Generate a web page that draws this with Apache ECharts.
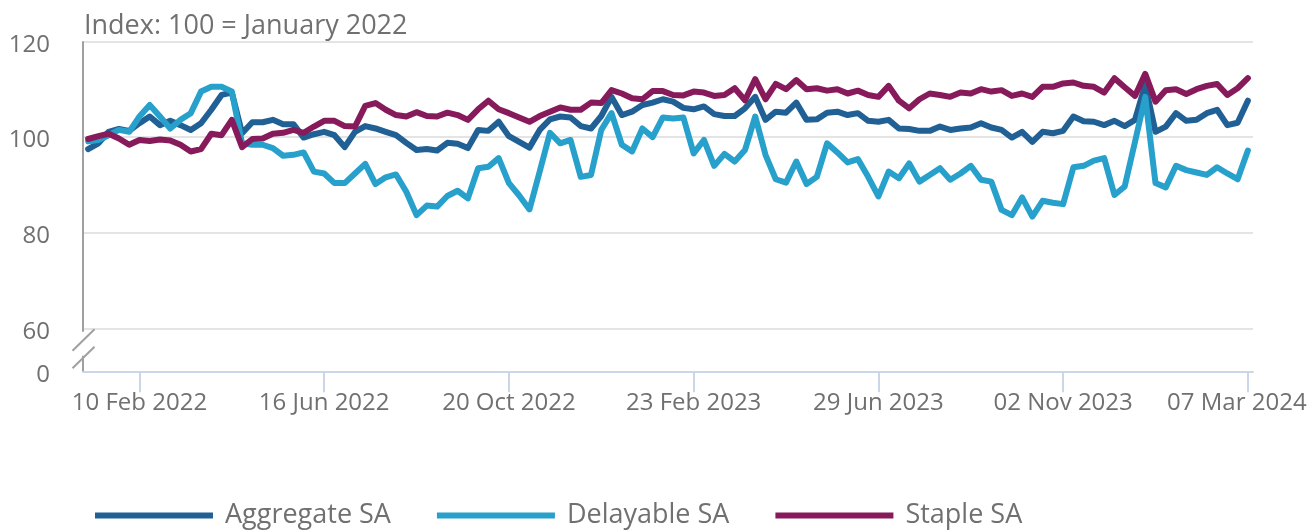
<!DOCTYPE html>
<html><head><meta charset="utf-8">
<script src="https://cdn.jsdelivr.net/npm/echarts@6/dist/echarts.min.js"></script>
<style>html,body{margin:0;padding:0;background:#fff}#c{width:1313px;height:530px}</style>
</head><body><div id="c"></div>
<script>
const titleText = 'Index: 100 = January 2022';
const seriesNames = ['Aggregate SA', 'Delayable SA', 'Staple SA'];
const firstWeek = '2022-01-06';
const yTicks = [60, 80, 100, 120];
const yBottom = 51.1; // bottom of broken axis, labelled 0
const yBottomLabel = '0';

const aggregate = [
  97.5, 98.7, 101.1, 101.7, 101.3, 102.9, 104.3, 102.5, 103.4, 102.5,
  101.5, 102.9, 105.7, 108.8, 109.3, 100.8, 103.1, 103.1, 103.6, 102.7,
  102.7, 99.9, 100.6, 101.1, 100.4, 97.9, 101.1, 102.3, 101.8, 101.1,
  100.4, 98.8, 97.3, 97.5, 97.2, 98.8, 98.6, 97.7, 101.5, 101.3,
  103.2, 100.2, 99.0, 97.8, 101.5, 103.7, 104.3, 104.1, 102.3, 101.8,
  104.4, 108.4, 104.6, 105.3, 106.7, 107.2, 107.9, 107.4, 106.1, 105.8,
  106.4, 104.8, 104.4, 104.4, 106.0, 108.4, 103.6, 105.3, 105.1, 107.2,
  103.6, 103.7, 105.1, 105.3, 104.6, 105.0, 103.4, 103.2, 103.6, 101.8,
  101.7, 101.3, 101.3, 102.2, 101.5, 101.8, 102.0, 102.9, 102.0, 101.5,
  99.9, 101.1, 99.0, 101.1, 100.8, 101.3, 104.3, 103.3, 103.2, 102.5,
  103.4, 102.3, 103.6, 110.9, 101.1, 102.2, 105.0, 103.4, 103.6, 105.0,
  105.7, 102.5, 103.0, 107.6
];
const delayable = [
  99.1, 99.4, 100.4, 101.5, 101.1, 104.3, 106.7, 104.3, 101.8, 103.6,
  105.0, 109.5, 110.5, 110.5, 109.5, 98.7, 98.4, 98.4, 97.7, 96.1,
  96.3, 96.8, 92.8, 92.4, 90.4, 90.4, 92.4, 94.4, 90.2, 91.6,
  92.2, 88.6, 83.7, 85.7, 85.5, 87.7, 88.8, 87.2, 93.5, 93.8,
  95.6, 90.4, 87.8, 84.9, 92.8, 100.9, 98.7, 99.4, 91.7, 92.1,
  101.5, 105.0, 98.4, 97.0, 101.8, 100.0, 104.1, 103.9, 104.1, 96.6,
  99.4, 94.0, 96.5, 94.9, 97.3, 104.3, 96.3, 91.2, 90.5, 94.9,
  90.2, 91.7, 98.7, 96.8, 94.7, 95.4, 91.7, 87.6, 92.8, 91.4,
  94.5, 90.7, 92.1, 93.5, 91.1, 92.4, 94.0, 91.1, 90.7, 84.8,
  83.7, 87.4, 83.4, 86.7, 86.3, 86.0, 93.7, 94.0, 95.1, 95.6,
  87.9, 89.7, 99.0, 108.4, 90.4, 89.5, 94.0, 93.1, 92.6, 92.1,
  93.7, 92.4, 91.2, 97.2
];
const staple = [
  99.6, 100.2, 100.7, 99.7, 98.4, 99.4, 99.2, 99.5, 99.3, 98.4,
  97.0, 97.5, 100.7, 100.4, 103.6, 97.9, 99.6, 99.7, 100.7, 100.9,
  101.5, 100.9, 102.2, 103.4, 103.4, 102.3, 102.2, 106.5, 107.1, 105.7,
  104.6, 104.3, 105.2, 104.4, 104.3, 105.1, 104.6, 103.6, 105.8, 107.6,
  105.8, 105.0, 104.1, 103.2, 104.4, 105.3, 106.2, 105.7, 105.7, 107.2,
  107.1, 109.8, 109.1, 108.1, 107.9, 109.6, 109.6, 108.8, 108.7, 109.5,
  109.3, 108.6, 108.8, 110.2, 107.7, 112.1, 107.9, 111.1, 110.0, 111.9,
  110.0, 110.2, 109.7, 110.0, 109.1, 109.7, 108.8, 108.4, 110.7, 107.6,
  106.0, 107.9, 109.1, 108.8, 108.4, 109.3, 109.1, 110.0, 109.5, 109.8,
  108.6, 109.1, 108.4, 110.5, 110.5, 111.2, 111.4, 110.7, 110.5, 109.3,
  112.3, 110.4, 108.6, 113.2, 107.4, 109.8, 110.0, 109.0, 110.0, 110.7,
  111.1, 108.8, 110.2, 112.3
];

const MONTHS = ['Jan','Feb','Mar','Apr','May','Jun','Jul','Aug','Sep','Oct','Nov','Dec'];
function fmtDate(d) {
  const dd = String(d.getUTCDate()).padStart(2, '0');
  return dd + ' ' + MONTHS[d.getUTCMonth()] + ' ' + d.getUTCFullYear();
}
const categories = [];
{
  const t0 = Date.parse(firstWeek + 'T00:00:00Z');
  for (let i = 0; i < aggregate.length; i++) categories.push(fmtDate(new Date(t0 + i * 7 * 86400000)));
}
const labelEvery = 18, labelOffset = 5;
const showLabel = (idx) => (idx - labelOffset) % labelEvery === 0 && idx >= labelOffset;
const lastLabel = categories[categories.length - 1];

const colors = ['#206095', '#27a0cc', '#871a5b'];
const FONT = "'Open Sans', 'Noto Sans', sans-serif";
const TXT = '#707070';
const GRID = { left: 83, right: 60, top: 41.3, bottom: 158.7 };

const chart = echarts.init(document.getElementById('c'), null, { renderer: 'canvas' });
const data = [aggregate, delayable, staple];

chart.setOption({
  animation: false,
  color: colors,
  title: {
    text: titleText, left: 79, top: 8,
    textStyle: { fontSize: 27, fontWeight: 'normal', color: TXT, fontFamily: FONT }
  },
  grid: Object.assign({ outerBoundsMode: 'none', containLabel: false }, GRID),
  legend: {
    left: 90, top: 497, itemWidth: 118, itemHeight: 6, itemGap: 46, icon: 'rect',
    textStyle: { fontSize: 27, color: TXT, fontFamily: FONT, padding: [0, 0, 0, 7] },
    data: seriesNames
  },
  xAxis: {
    type: 'category', data: categories, boundaryGap: true,
    axisLine: { show: true, lineStyle: { color: '#ccd6eb', width: 2 } },
    axisTick: { show: true, alignWithLabel: true, length: 21, interval: (i) => showLabel(i), lineStyle: { color: '#ccd6eb', width: 2 } },
    axisLabel: {
      interval: (i) => showLabel(i), fontSize: 24, color: TXT, fontFamily: FONT, margin: 20,
      formatter: (v) => (v === lastLabel ? '{last|' + v + '}' : v),
      rich: { last: { fontSize: 24, color: TXT, fontFamily: FONT, padding: [0, 22, 0, 0] } }
    },
    splitLine: { show: false }
  },
  yAxis: {
    type: 'value', min: yBottom, max: 120,
    axisLine: { show: false },
    axisTick: { show: false, customValues: yTicks },
    axisLabel: {
      customValues: [yBottom].concat(yTicks),
      formatter: (v) => '{t|' + (Math.abs(v - yBottom) < 1e-6 ? yBottomLabel : String(v)) + '}',
      rich: { t: { fontSize: 24, color: TXT, fontFamily: FONT, padding: [7, 0, 0, 0] } },
      fontSize: 24, color: TXT, fontFamily: FONT, margin: 33
    },
    splitLine: { show: true, lineStyle: { color: '#e4e4e4', width: 2 } }
  },
  series: seriesNames.map((n, k) => ({
    name: n, type: 'line', data: data[k], symbol: 'none', showSymbol: false,
    lineStyle: { width: 6, color: colors[k], join: 'round', cap: 'round' },
    itemStyle: { color: colors[k] }
  }))
});

// broken y-axis decoration
const yTop = chart.convertToPixel({ yAxisIndex: 0 }, 120);
const y60 = chart.convertToPixel({ yAxisIndex: 0 }, yTicks[0]);
const y0 = chart.convertToPixel({ yAxisIndex: 0 }, yBottom);
const ax = GRID.left;
const gs = { stroke: '#a0a0a0', lineWidth: 2 };
chart.setOption({
  graphic: [
    { type: 'line', shape: { x1: ax, y1: yTop, x2: ax, y2: y60 + 3 }, style: gs, z: 10 },
    { type: 'line', shape: { x1: ax, y1: y60 + 27, x2: ax, y2: y0 }, style: gs, z: 10 },
    { type: 'line', shape: { x1: ax - 10.5, y1: y60 + 22, x2: ax + 11.5, y2: y60 + 0.5 }, style: gs, z: 10 },
    { type: 'line', shape: { x1: ax - 10.5, y1: y60 + 39.5, x2: ax + 11.5, y2: y60 + 18 }, style: gs, z: 10 }
  ]
});
</script>
</body></html>
